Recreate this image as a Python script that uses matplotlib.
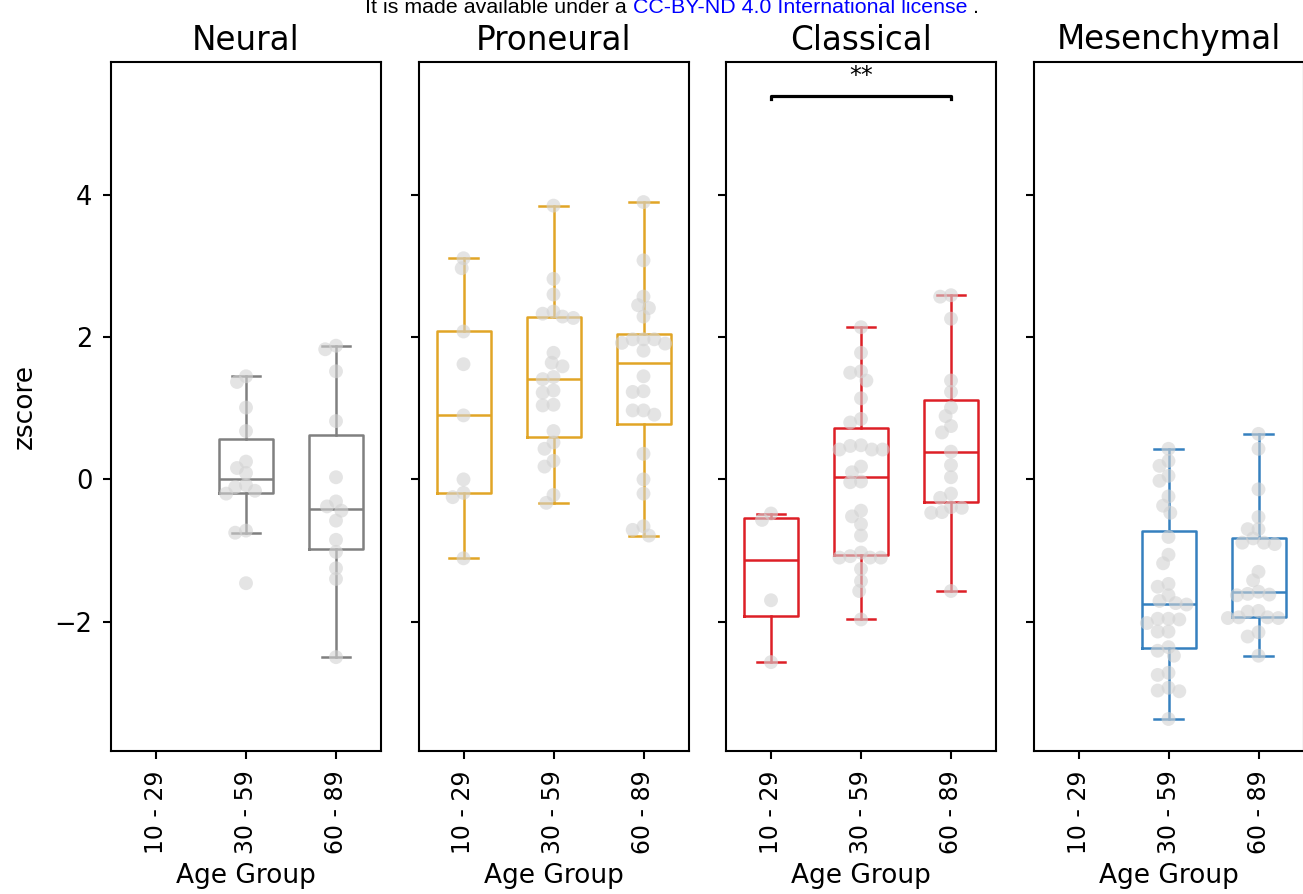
import numpy as np
import matplotlib
matplotlib.use("Agg")
import matplotlib.pyplot as plt

# ---------------- data ----------------
subtypes = ["Neural", "Proneural", "Classical", "Mesenchymal"]
age_groups = ["10 - 29", "30 - 59", "60 - 89"]
subtype_colors = ["#808080", "#E1A526", "#DD1F26", "#3580BF"]

neural_10_29 = []
neural_30_59 = [1.45, 1.37, 1.01, 0.68, 0.25, 0.16, 0.09, -0.08, -0.11, -0.16,
                -0.20, -0.72, -0.75, -1.46]
neural_60_89 = [1.88, 1.83, 1.52, 0.82, 0.03, -0.31, -0.38, -0.44, -0.58, -0.85,
                -1.02, -1.25, -1.40, -2.50]
proneural_10_29 = [3.11, 2.97, 2.08, 1.62, 0.90, 0.0, -0.19, -0.25, -1.11]
proneural_30_59 = [3.85, 2.82, 2.60, 2.36, 2.33, 2.29, 2.27, 1.78, 1.64, 1.59,
                   1.44, 1.41, 1.25, 1.22, 1.05, 1.04, 0.68, 0.52, 0.43, 0.26,
                   0.18, -0.22, -0.33]
proneural_60_89 = [3.90, 3.08, 2.57, 2.45, 2.41, 2.29, 1.97, 1.97, 1.97, 1.92,
                   1.91, 1.81, 1.45, 1.24, 1.23, 0.97, 0.97, 0.91, 0.36, 0.0,
                   -0.20, -0.66, -0.71, -0.79]
classical_10_29 = [-0.48, -0.57, -1.70, -2.57]
classical_30_59 = [2.14, 1.78, 1.52, 1.50, 1.39, 1.14, 0.85, 0.80, 0.48, 0.47,
                   0.42, 0.42, 0.42, 0.18, 0.10, -0.03, -0.04, -0.44, -0.52, -0.63,
                   -0.79, -1.03, -1.08, -1.10, -1.10, -1.10, -1.26, -1.43, -1.57, -1.97]
classical_60_89 = [2.59, 2.57, 2.26, 1.39, 1.23, 1.01, 0.89, 0.75, 0.66, 0.39,
                   0.20, 0.03, -0.20, -0.26, -0.39, -0.40, -0.46, -0.47, -1.57]
mesenchymal_10_29 = []
mesenchymal_30_59 = [0.43, 0.26, 0.19, 0.05, -0.02, -0.24, -0.37, -0.47, -0.81, -1.06,
                     -1.18, -1.47, -1.51, -1.63, -1.71, -1.74, -1.76, -1.96, -1.96, -1.97,
                     -2.02, -2.14, -2.14, -2.36, -2.41, -2.48, -2.72, -2.75, -2.93, -2.97,
                     -2.98, -3.37]
mesenchymal_60_89 = [0.64, 0.43, -0.14, -0.53, -0.70, -0.70, -0.83, -0.89, -0.89, -0.91,
                     -1.30, -1.42, -1.58, -1.61, -1.62, -1.63, -1.85, -1.86, -1.94, -1.94,
                     -1.95, -1.95, -2.15, -2.21, -2.48]

groups = [
    [neural_10_29, neural_30_59, neural_60_89],
    [proneural_10_29, proneural_30_59, proneural_60_89],
    [classical_10_29, classical_30_59, classical_60_89],
    [mesenchymal_10_29, mesenchymal_30_59, mesenchymal_60_89],
]

sig_panel = "Classical"
sig_pair = ("10 - 29", "60 - 89")
sig_label = "**"

header_black = "It is made available under a "
header_blue = "CC-BY-ND 4.0 International license"
header_end = " ."

# ---------------- layout ----------------
W, H = 1303, 894
fig = plt.figure(figsize=(W / 100, H / 100), dpi=100)

ax_w_px, ax_h_px = 270, 689
ax_top_px = 62
lefts_px = [111, 418.5, 726, 1033.5]
ylim = (-3.82, 5.87)
px_per_x = ax_w_px / 3.0
px_per_y = ax_h_px / (ylim[1] - ylim[0])


def swarm(vals, min_d=10.0, step=0.02):
    """Deterministic beeswarm offsets (in category units)."""
    placed = []
    offs = []
    for v in vals:
        k = 0
        while True:
            cands = [0.0] if k == 0 else [-k * step, k * step]
            ok = None
            for c in cands:
                good = True
                for (px, py) in placed:
                    dx = (c - px) * px_per_x
                    dy = (v - py) * px_per_y
                    if dx * dx + dy * dy < min_d * min_d:
                        good = False
                        break
                if good:
                    ok = c
                    break
            if ok is not None:
                placed.append((ok, v))
                offs.append(ok)
                break
            k += 1
    return np.array(offs)


xtick_fs = 17
ytick_fs = 18.5
label_fs = 19
title_fs = 23.5
axes = []
for i, name in enumerate(subtypes):
    rect = [lefts_px[i] / W, (H - ax_top_px - ax_h_px) / H, ax_w_px / W, ax_h_px / H]
    ax = fig.add_axes(rect)
    axes.append(ax)
    col = subtype_colors[i]
    pos = [j for j, g in enumerate(groups[i]) if len(g) > 0]
    dat = [groups[i][j] for j in pos]
    lw = 1.8
    ax.boxplot(dat, positions=pos, widths=0.6, whis=1.5, showfliers=False,
               capwidths=0.32,
               boxprops=dict(color=col, linewidth=lw),
               whiskerprops=dict(color=col, linewidth=lw),
               capprops=dict(color=col, linewidth=lw),
               medianprops=dict(color=col, linewidth=lw),
               zorder=2)
    for j in pos:
        vals = np.array(groups[i][j])
        offs = swarm(vals)
        ax.scatter(j + offs, vals, s=100, color="#d3d3d3", alpha=0.6,
                   edgecolors="none", zorder=3)
    ax.set_xlim(-0.5, 2.5)
    ax.set_ylim(*ylim)
    ax.set_xticks(range(len(age_groups)))
    ax.set_xticklabels(age_groups, rotation=90)
    ax.set_yticks([-2, 0, 2, 4])
    ax.tick_params(axis="both", length=6, width=1.5)
    ax.tick_params(axis="x", pad=8, labelsize=xtick_fs)
    ax.tick_params(axis="y", pad=7.5, labelsize=ytick_fs)
    if i == 0:
        ax.set_ylabel("zscore", fontsize=label_fs, labelpad=12)
    else:
        ax.tick_params(axis="y", labelleft=False)
    ax.set_xlabel("Age Group", fontsize=label_fs, labelpad=6)
    ax.set_title(name, fontsize=title_fs, pad=9)
    for sp in ax.spines.values():
        sp.set_linewidth(1.5)

    if name == sig_panel:
        x1 = age_groups.index(sig_pair[0])
        x2 = age_groups.index(sig_pair[1])
        yb, h = 5.395, 0.05
        ax.plot([x1, x1, x2, x2], [yb - h, yb, yb, yb - h], color="black",
                lw=2.3, clip_on=False, zorder=4)
        ax.text((x1 + x2) / 2, yb + 0.11, sig_label, ha="center", va="bottom",
                fontsize=17)

# header (partially cut at the top)
fig.canvas.draw()
renderer = fig.canvas.get_renderer()
hx = 365 / W
hy = 1 - 13 / H
hfs = 15.4
t1 = fig.text(hx, hy, header_black, fontsize=hfs, family="Liberation Sans",
              color="black", ha="left", va="baseline")
bb = t1.get_window_extent(renderer)
t2 = fig.text(bb.x1 / W, hy, header_blue, fontsize=hfs, family="Liberation Sans",
              color="#0000FF", ha="left", va="baseline")
bb2 = t2.get_window_extent(renderer)
fig.text(bb2.x1 / W, hy, header_end, fontsize=hfs, family="Liberation Sans",
         color="black", ha="left", va="baseline")

fig.savefig("out.png", dpi=100)
